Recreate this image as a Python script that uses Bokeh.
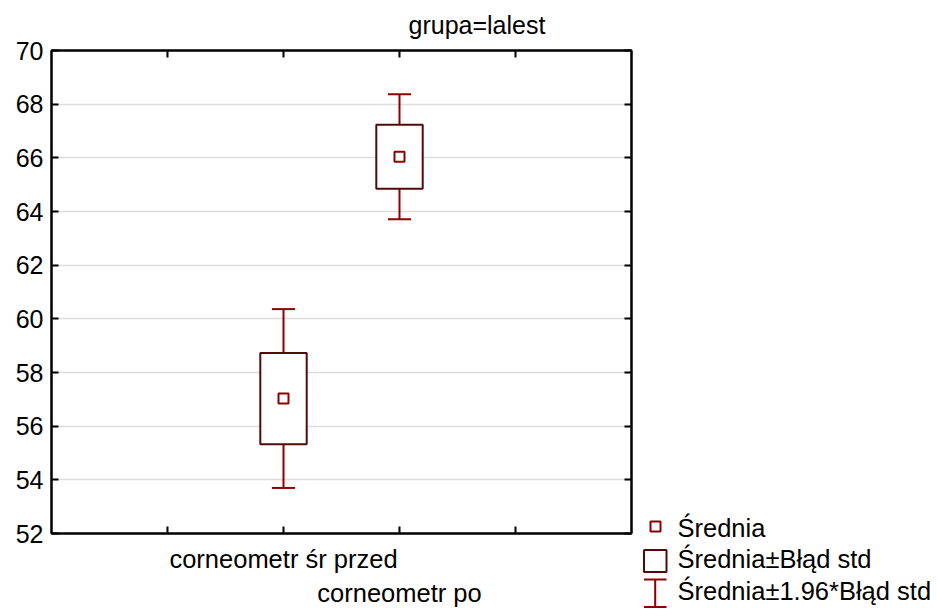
import numpy as np
from bokeh.plotting import figure
from bokeh.models import ColumnDataSource, Range1d, LinearAxis, FixedTicker, Title
from bokeh.layouts import row
from bokeh.embed import file_html
from bokeh.resources import INLINE
from bokeh.core.properties import value

# ---- data ----
title_text = "grupa=lalest"
categories = ["corneometr śr przed", "corneometr po"]
means = [57.03, 66.04]
std_err = [1.70, 1.19]
y_ticks = [52, 54, 56, 58, 60, 62, 64, 66, 68, 70]
x_tick_slots = [1, 2, 3, 4]
legend_labels = ["Średnia", "Średnia±Błąd std", "Średnia±1.96*Błąd std"]

FONT = "Liberation Sans"
FS = "25px"
FS_X = "25.5px"
BOX_COLOR = "#520a0a"
RED = "#8b0000"

x = np.arange(len(categories)) + 2.0
m = np.array(means)
s = np.array(std_err)
src = ColumnDataSource(dict(x=x, mean=m, lo=m - s, hi=m + s,
                            wlo=m - 1.96 * s, whi=m + 1.96 * s,
                            cl=x - 0.1, cr=x + 0.1))

p = figure(width=640, height=610, output_backend="svg", toolbar_location=None,
           x_range=Range1d(0, 5), y_range=Range1d(52, 70),
           x_axis_location=None, y_axis_location=None,
           min_border_left=51, min_border_right=9, min_border_top=50,
           min_border_bottom=77, background_fill_color="white",
           border_fill_color="white")
p.outline_line_color = "black"
p.outline_line_width = 2
p.xgrid.visible = False
p.ygrid.ticker = FixedTicker(ticks=y_ticks)
p.ygrid.grid_line_color = "#dcdcdc"
p.ygrid.grid_line_width = 1.5

def mk_axis(ticks, show_labels=False, overrides=None, line=True, tick=True,
            standoff=8, fs=FS):
    ax = LinearAxis(ticker=FixedTicker(ticks=ticks),
                    major_tick_in=7 if tick else 0, major_tick_out=0,
                    minor_tick_line_color=None,
                    axis_line_width=2, major_tick_line_width=2,
                    axis_line_color="black" if line else None,
                    major_tick_line_color="black" if tick else None,
                    major_label_text_font=FONT,
                    major_label_text_font_size=fs if show_labels else "0px",
                    major_label_text_color="black",
                    major_label_standoff=standoff,
                    axis_label_standoff=0)
    if overrides is not None:
        ax.major_label_overrides = overrides
    return ax

p.add_layout(mk_axis(y_ticks, show_labels=True), "left")
p.add_layout(mk_axis(y_ticks, standoff=0), "right")
p.add_layout(mk_axis(x_tick_slots, standoff=0), "above")

ov_a = {t: "" for t in x_tick_slots}
ov_a[float(x[0])] = categories[0]
ov_a[int(x[0])] = categories[0]
p.add_layout(mk_axis(x_tick_slots, show_labels=True, overrides=ov_a,
                     standoff=11, fs=FS_X), "below")
p.add_layout(mk_axis([float(x[1])], show_labels=True,
                     overrides={float(x[1]): categories[1], int(x[1]): categories[1]},
                     line=False, tick=False, standoff=3, fs=FS_X), "below")

p.add_layout(Title(text=title_text, text_font=FONT, text_font_size=FS,
                   text_font_style="normal", align="left", offset=357,
                   standoff=20, vertical_align="top", text_color="black"), "above")

# whiskers
p.segment("x", "wlo", "x", "whi", source=src, line_color=RED, line_width=2)
p.segment("cl", "wlo", "cr", "wlo", source=src, line_color=RED, line_width=2)
p.segment("cl", "whi", "cr", "whi", source=src, line_color=RED, line_width=2)
# box
p.vbar(x="x", width=0.4, bottom="lo", top="hi", source=src,
       fill_color="white", line_color=BOX_COLOR, line_width=2)
# mean
p.scatter("x", "mean", source=src, marker="square", size=10,
          fill_color="white", line_color=RED, line_width=2)

# ---- legend panel ----
leg = figure(width=297, height=610, output_backend="svg", toolbar_location=None,
             x_range=Range1d(640, 937), y_range=Range1d(610, 0),
             x_axis_location=None, y_axis_location=None,
             min_border=0, min_border_left=0, min_border_right=0,
             min_border_top=0, min_border_bottom=0,
             outline_line_color=None, border_fill_color="white")
leg.grid.visible = False
for fig in (p, leg):
    try:
        fig.frame_align = False
    except Exception:
        pass

leg.scatter([655], [526], marker="square", size=10, fill_color="white",
            line_color=RED, line_width=2)
leg.quad(left=[643.5], right=[666], top=[549.5], bottom=[571.5],
         fill_color="white", line_color=BOX_COLOR, line_width=2)
leg.segment([654.7], [579], [654.7], [606.5], line_color=RED, line_width=2)
leg.segment([643.5, 643.5], [579, 606.5], [666, 666], [579, 606.5],
            line_color=RED, line_width=2)
leg.text(x=[677] * 3, y=[527.5, 558, 590], text=legend_labels,
         text_font=value(FONT), text_font_size=FS_X, text_color="black",
         text_baseline="alphabetic", text_align="left")

layout = row(p, leg)
open("out.html", "w").write(file_html(layout, INLINE))
